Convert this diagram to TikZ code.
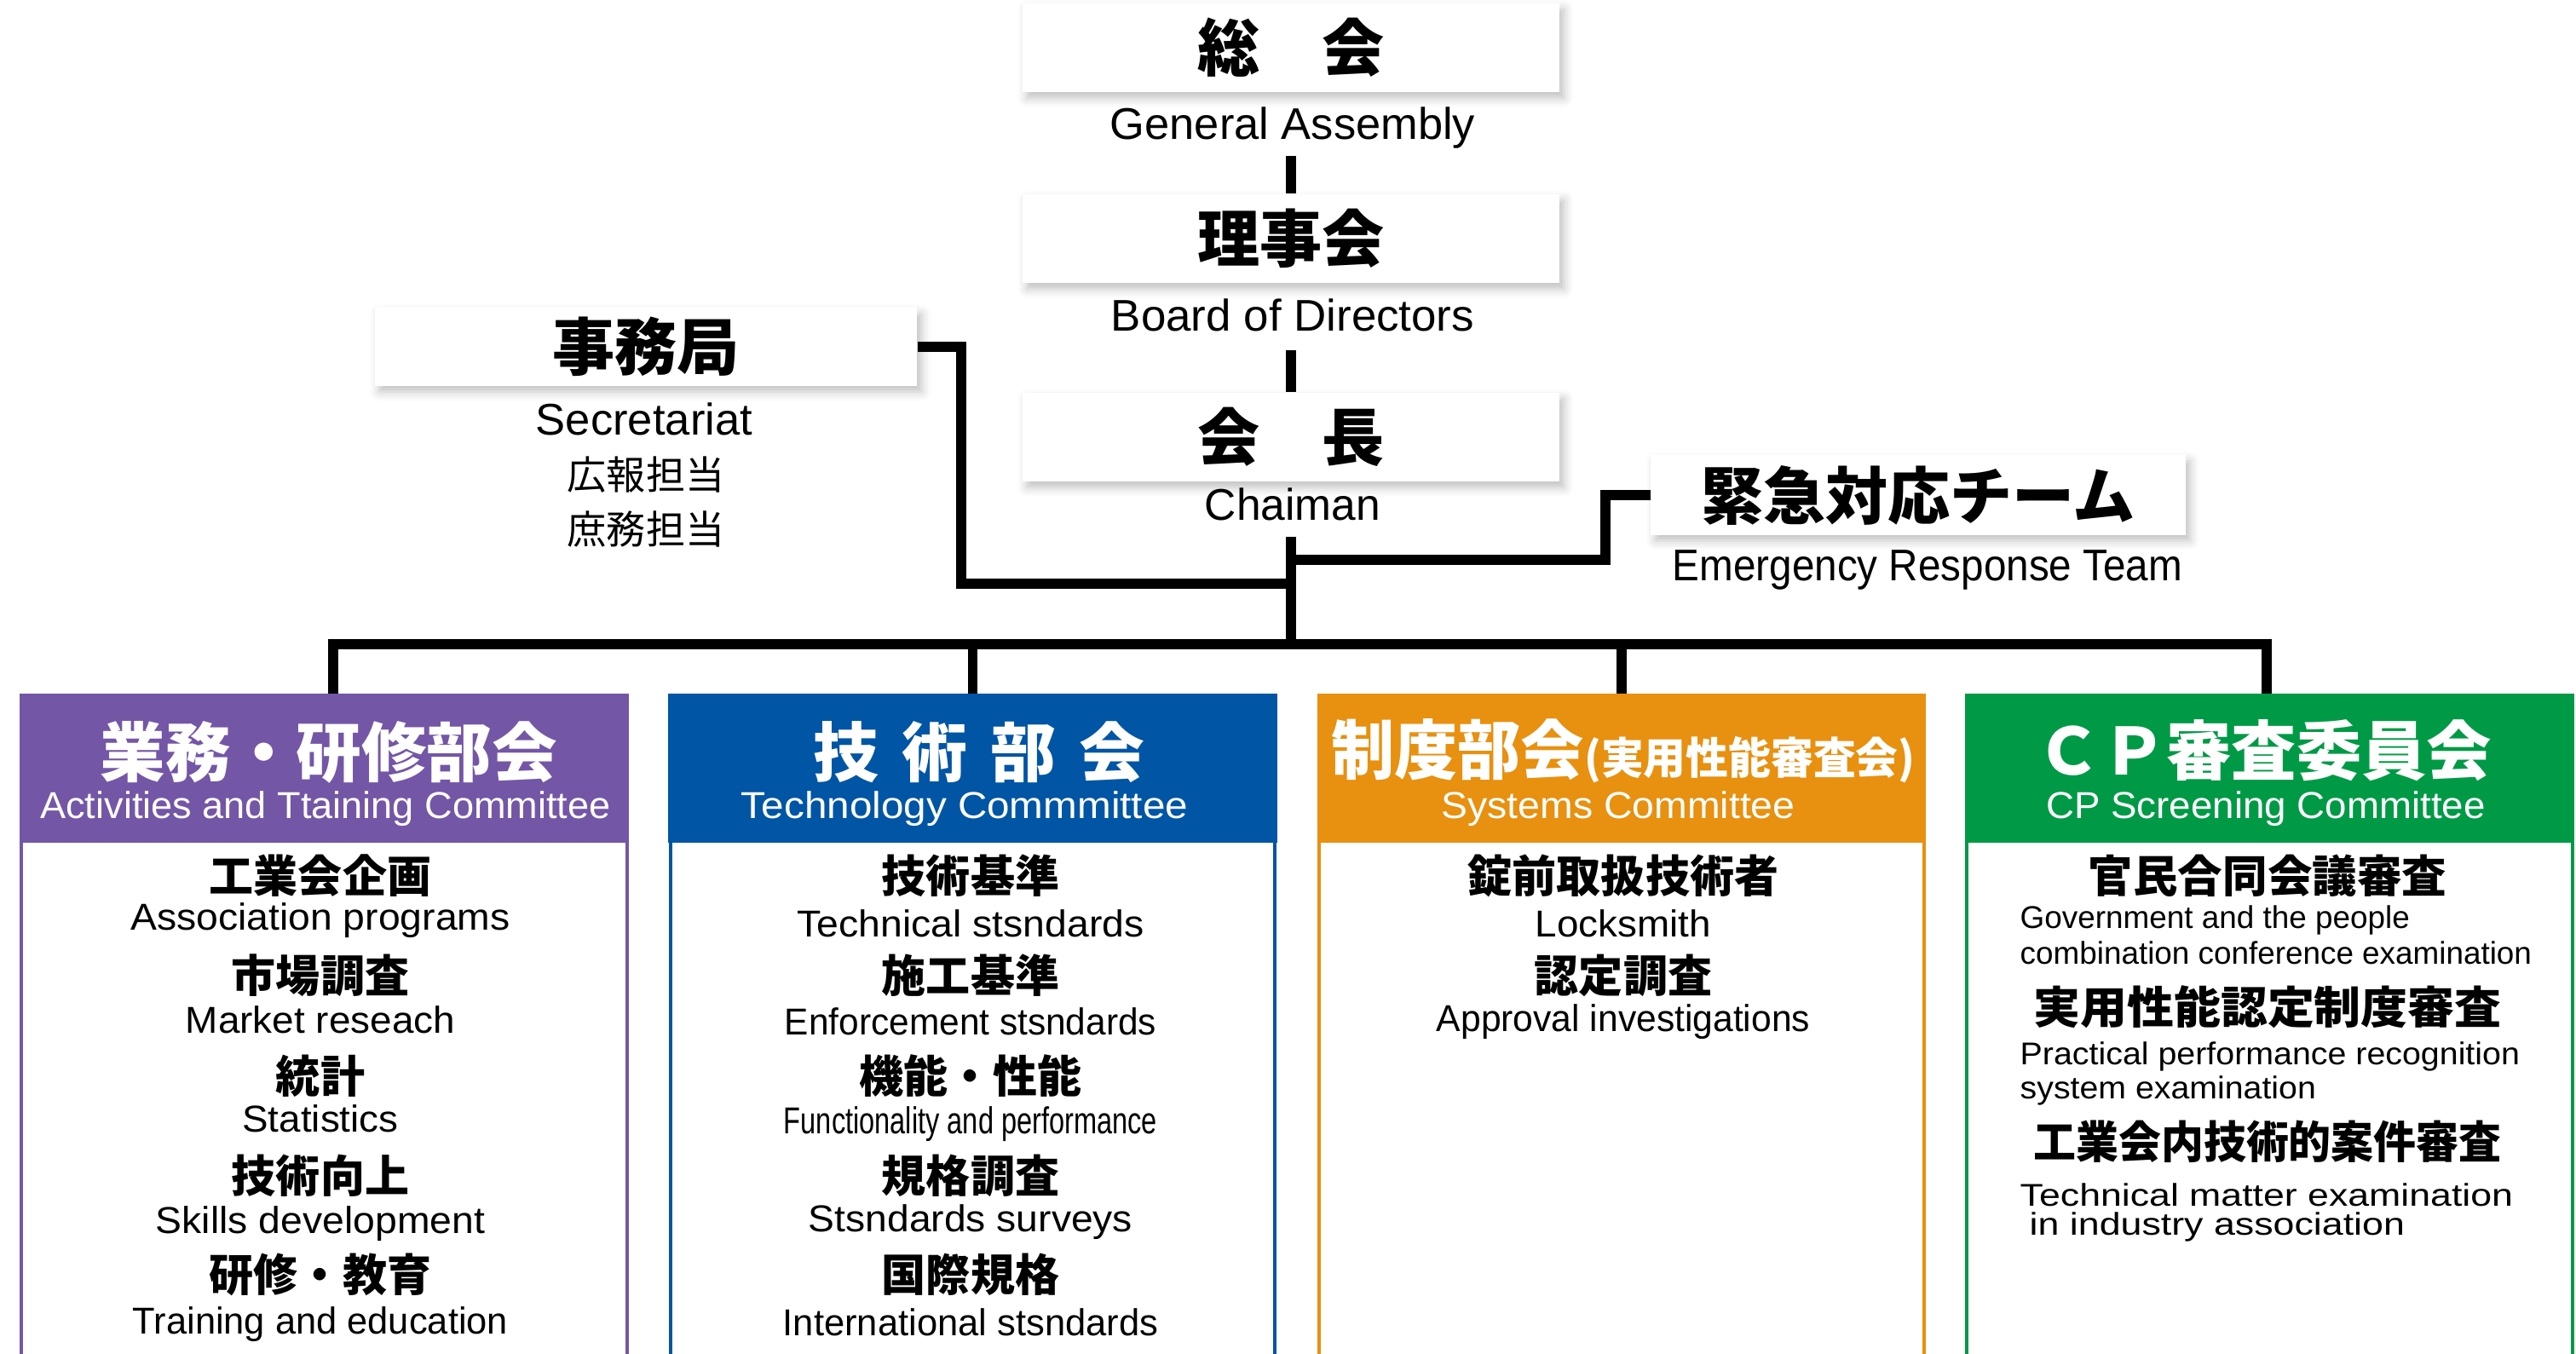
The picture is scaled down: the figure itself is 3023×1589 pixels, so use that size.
\documentclass[tikz,border=0pt]{standalone}
\usepackage{fontspec}
\usepackage{graphicx}
\setmainfont{Liberation Sans}
\newfontfamily\jp{Noto Sans CJK JP}
\usetikzlibrary{shadows.blur}
\definecolor{cpurple}{HTML}{7456A6}
\definecolor{cblue}{HTML}{0055A5}
\definecolor{corange}{HTML}{E8900F}
\definecolor{cgreen}{HTML}{009A46}
\newcommand\fs[1]{\fontsize{#1}{#1}\selectfont}
\newcommand\fitw[2]{\resizebox{#1}{\height}{#2}}
\begin{document}
\begin{tikzpicture}[x=0.01cm,y=-0.01cm,
  topbox/.style={draw=none, fill=white, inner sep=0, minimum width=6.3cm, minimum height=1.04cm,
    blur shadow={shadow xshift=1.5pt, shadow yshift=-2pt, shadow blur radius=3pt, shadow opacity=25},
    font=\jp\bfseries\fs{20.8pt}},
  lbl/.style={inner sep=0, font=\fs{14.8pt}},
  jplbl/.style={inner sep=0, font=\jp\fs{13.1pt}},
  conn/.style={line width=3.4pt, line join=miter},
  hdr/.style={fill=#1, draw=#1, line width=1.2pt, inner sep=0, minimum width=7.11cm, minimum height=1.71cm},
  body/.style={draw=#1, line width=1.2pt, fill=white},
  hdrjp/.style={inner sep=0, text=white, font=\jp\bfseries\fs{21.6pt}},
  hdren/.style={inner sep=0, text=white, font=\fs{12.5pt}},
  bjp/.style={inner sep=0, font=\jp\bfseries\fs{14.8pt}},
  ben/.style={inner sep=0, font=\fs{12.5pt}},
  gen/.style={inner sep=0, anchor=west, font=\fs{10.5pt}}]
\useasboundingbox (0,0) rectangle (3023,1589);
\clip (0,0) rectangle (3023,1589);

% top hierarchy
\node[topbox] (ga) at (1515,56) {総　会};
\node[lbl] (galbl) at (1517,150) {\fitw{4.28cm}{General Assembly}};
\node[topbox] (bod) at (1515,280) {理事会};
\node[lbl] (bodlbl) at (1517,370) {\fitw{4.26cm}{Board of Directors}};
\node[topbox] (chair) at (1515,513) {会　長};
\node[lbl] (chairlbl) at (1517,592) {\fitw{2.06cm}{Chaiman}};

% secretariat
\node[topbox, minimum width=6.36cm, minimum height=0.91cm] (sec) at (758,407) {事務局};
\node[lbl] (seclbl) at (756,492) {\fitw{2.54cm}{Secretariat}};
\node[jplbl] (sec1) at (758,557) {広報担当};
\node[jplbl] (sec2) at (758,621) {庶務担当};

% emergency
\node[topbox, minimum width=6.27cm, minimum height=0.93cm] (emg) at (2251,581) {緊急対応チーム};
\node[lbl] (emglbl) at (2262,669) {\fitw{5.98cm}{Emergency Response Team}};

% committees (bodies and headers)
\draw[body=cpurple] (25,987) rectangle (736,1640);
\draw[body=cblue] (787,987) rectangle (1496,1640);
\draw[body=corange] (1548,987) rectangle (2258,1640);
\draw[body=cgreen] (2308,987) rectangle (3019,1640);
\node[hdr=cpurple] (com1) at (380.5,901.5) {};
\node[hdr=cblue] (com2) at (1141.5,901.5) {};
\node[hdr=corange, minimum width=7.10cm] (com3) at (1903,901.5) {};
\node[hdr=cgreen] (com4) at (2663.5,901.5) {};

% connectors
\coordinate (bus) at (1515,756);
\coordinate (c1) at (1515,183);
\coordinate (c2) at (1515,411);
\coordinate (c3) at (1515,630);
\coordinate (secturn) at (1128,685);
\coordinate (secj) at (1515,685);
\coordinate (emgturn) at (1884,657);
\coordinate (emgj) at (1515,657);
\draw[conn] (c1) -- (bod.north);
\draw[conn] (c2) -- (chair.north);
\draw[conn] (c3) -- (bus);
\draw[conn] (sec.east) -| (secturn) -- (secj);
\draw[conn] (emg.west) -| (emgturn) -- (emgj);
\draw[conn] ([xshift=3pt]com1.north) |- (bus) -| ([xshift=-1pt]com4.north);
\draw[conn] (com2.north |- bus) -- (com2.north);
\draw[conn] (com3.north |- bus) -- (com3.north);

% header texts
\node[hdrjp] (h1j) at (386,883) {\fitw{5.36cm}{業務・研修部会}};
\node[hdren] (h1e) at (382,949) {\fitw{6.69cm}{Activities and Ttaining Committee}};
\node[hdrjp] (h2j) at (1149,883) {\fitw{3.88cm}{技\hspace{0.35em}術\hspace{0.35em}部\hspace{0.35em}会}};
\node[hdren] (h2e) at (1132,949) {\fitw{5.24cm}{Technology Commmittee}};
\node[hdrjp] (h3j) at (1905,881) {\fitw{6.85cm}{制度部会{\fs{14.5pt}(実用性能審査会)}}};
\node[hdren] (h3e) at (1899,949) {\fitw{4.15cm}{Systems Committee}};
\node[hdrjp] (h4j) at (2657,881) {\fitw{5.34cm}{ＣＰ審査委員会}};
\node[hdren] (h4e) at (2659,949) {\fitw{5.15cm}{CP Screening Committee}};

% purple body
\node[bjp] (p1) at (376,1028) {工業会企画};
\node[ben] (p1e) at (376,1080) {\fitw{4.45cm}{Association programs}};
\node[bjp] (p2) at (376,1145) {市場調査};
\node[ben] (p2e) at (376,1197) {\fitw{3.16cm}{Market reseach}};
\node[bjp] (p3) at (376,1263) {統計};
\node[ben] (p3e) at (376,1313) {\fitw{1.83cm}{Statistics}};
\node[bjp] (p4) at (376,1380) {技術向上};
\node[ben] (p4e) at (376,1436) {\fitw{3.86cm}{Skills development}};
\node[bjp] (p5) at (376,1496) {研修・教育};
\node[ben] (p5e) at (376,1554) {\fitw{4.40cm}{Training and education}};

% blue body
\node[bjp] (b1) at (1139,1028) {技術基準};
\node[ben] (b1e) at (1139,1084) {\fitw{4.07cm}{Technical stsndards}};
\node[bjp] (b2) at (1139,1145) {施工基準};
\node[ben] (b2e) at (1139,1199) {\fitw{4.36cm}{Enforcement stsndards}};
\node[bjp] (b3) at (1139,1263) {機能・性能};
\node[ben] (b3e) at (1139,1319) {\fitw{4.38cm}{Functionality and performance}};
\node[bjp] (b4) at (1139,1380) {規格調査};
\node[ben] (b4e) at (1139,1434) {\fitw{3.80cm}{Stsndards surveys}};
\node[bjp] (b5) at (1139,1496) {国際規格};
\node[ben] (b5e) at (1139,1552) {\fitw{4.40cm}{International stsndards}};

% orange body
\node[bjp] (o1) at (1905,1028) {錠前取扱技術者};
\node[ben] (o1e) at (1905,1084) {\fitw{2.06cm}{Locksmith}};
\node[bjp] (o2) at (1905,1145) {認定調査};
\node[ben] (o2e) at (1905,1199) {\fitw{4.38cm}{Approval investigations}};

% green body
\node[bjp] (g1) at (2661,1028) {\fitw{4.20cm}{官民合同会議審査}};
\node[gen] (g1e) at (2370,1080) {\fitw{4.57cm}{Government and the people}};
\node[gen] (g1f) at (2370,1118) {\fitw{6.00cm}{combination conference examination}};
\node[bjp] (g2) at (2661,1182) {\fitw{5.49cm}{実用性能認定制度審査}};
\node[gen] (g2e) at (2370,1240) {\fitw{5.86cm}{Practical performance recognition}};
\node[gen] (g2f) at (2370,1280) {\fitw{3.47cm}{system examination}};
\node[bjp] (g3) at (2661,1340) {\fitw{5.49cm}{工業会内技術的案件審査}};
\node[gen] (g3e) at (2370,1402) {\fitw{5.78cm}{Technical matter examination}};
\node[gen] (g3f) at (2381,1440) {\fitw{4.40cm}{in industry association}};
\end{tikzpicture}
\end{document}
